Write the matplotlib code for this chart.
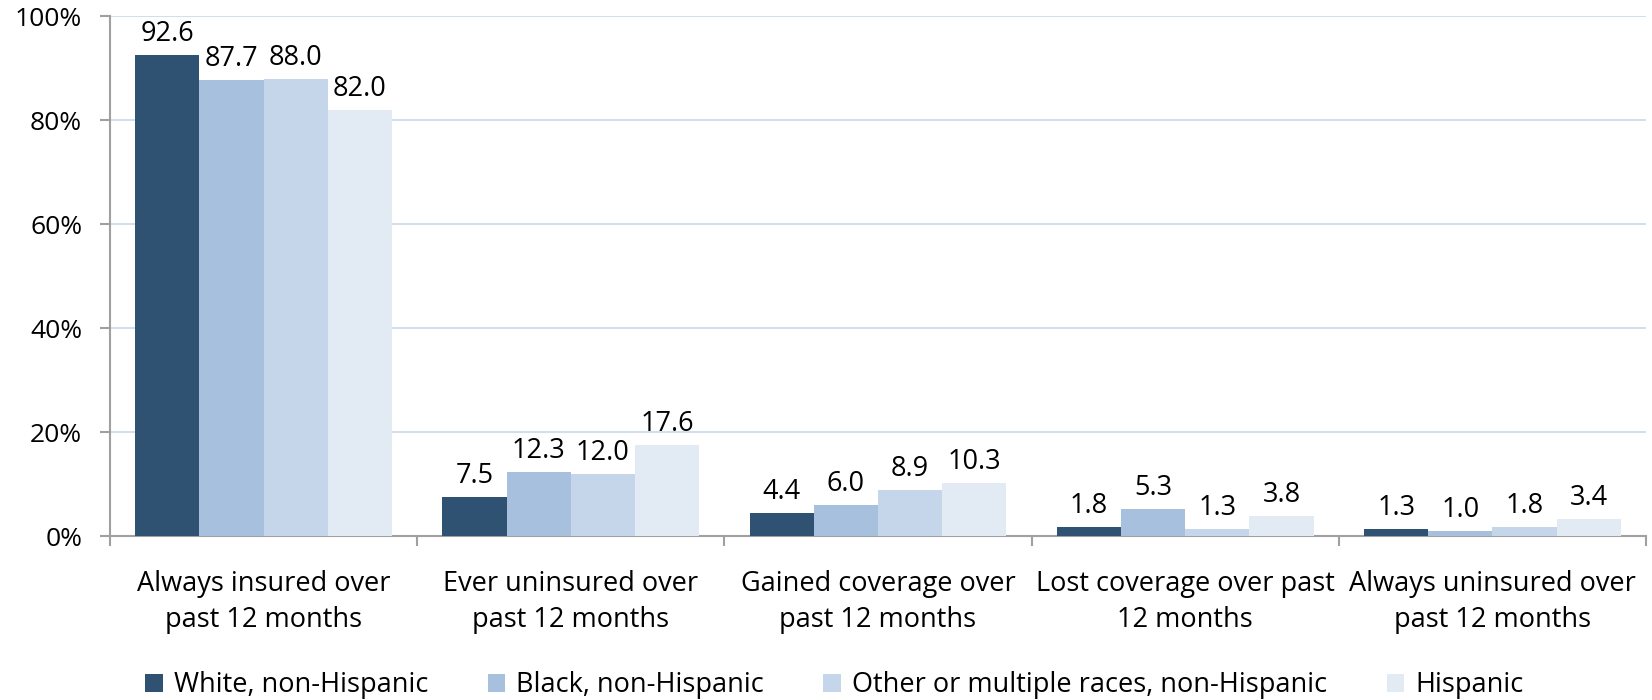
import matplotlib

matplotlib.use("Agg")
import matplotlib.pyplot as plt
import matplotlib.ticker as mticker
import numpy as np

plt.rcParams["font.family"] = ["Open Sans", "DejaVu Sans"]

# ── 데이터 ────────────────────────────────────────────────────────────────
categories = [
    "Always insured over\npast 12 months",
    "Ever uninsured over\npast 12 months",
    "Gained coverage over\npast 12 months",
    "Lost coverage over past\n12 months",
    "Always uninsured over\npast 12 months",
]
groups = [
    "White, non-Hispanic",
    "Black, non-Hispanic",
    "Other or multiple races, non-Hispanic",
    "Hispanic",
]
white = [92.6, 7.5, 4.4, 1.8, 1.3]
black = [87.7, 12.3, 6.0, 5.3, 1.0]
other = [88.0, 12.0, 8.9, 1.3, 1.8]
hispanic = [82.0, 17.6, 10.3, 3.8, 3.4]
colors = ["#2F5172", "#A6C0DE", "#C5D6EB", "#E2EAF4"]

series = [white, black, other, hispanic]

fig = plt.figure(figsize=(16.52, 7.0), dpi=100)
ax = fig.add_axes([0.0666, 0.234, 0.9298, 0.743])

x = np.arange(len(categories))
bw = 0.209
for i, (vals, col, name) in enumerate(zip(series, colors, groups)):
    pos = x + (i - 1.5) * bw
    bars = ax.bar(pos, vals, width=bw, color=col, label=name, zorder=3)
    for b, v in zip(bars, vals):
        ax.annotate(f"{v:.1f}", (b.get_x() + b.get_width() / 2, v),
                    xytext=(0, 5), textcoords="offset points",
                    ha="center", va="bottom", fontsize=19.5, color="#000000")

ax.set_xlim(-0.5, len(categories) - 0.5)
ax.set_ylim(0, 100)
ax.yaxis.set_major_locator(mticker.MultipleLocator(20))
ax.yaxis.set_major_formatter(mticker.FuncFormatter(lambda y, _: f"{y:.0f}%"))
ax.grid(axis="y", color="#C9D7EA", linewidth=1.2, zorder=0)

ax.set_xticks(x)
ax.set_xticklabels(categories, fontsize=19.5, linespacing=1.4)
ax.tick_params(axis="x", length=0, pad=24)
# 카테고리 경계 눈금
ax.set_xticks(np.arange(len(categories) + 1) - 0.5, minor=True)
ax.tick_params(axis="x", which="minor", length=7, color="#A0A0A0", width=1.5)
ax.tick_params(axis="y", labelsize=19, length=7, color="#A0A0A0", width=1.5, pad=13)

for s in ["top", "right"]:
    ax.spines[s].set_visible(False)
for s in ["left", "bottom"]:
    ax.spines[s].set_color("#A0A0A0")
    ax.spines[s].set_linewidth(1.5)

fig.legend(loc="lower center", bbox_to_anchor=(0.505, -0.034), ncol=4, frameon=False,
           fontsize=19.5, handlelength=0.65, handleheight=0.65, handletextpad=0.4,
           columnspacing=2.2)

fig.savefig("out.png", dpi=100)
